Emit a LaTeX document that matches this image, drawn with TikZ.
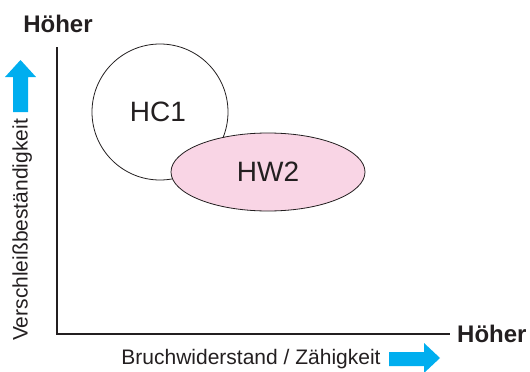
\documentclass[tikz,border=0pt]{standalone}
\usepackage{fontspec}
\setmainfont{Liberation Sans}
\usetikzlibrary{shapes.geometric}
\definecolor{txt}{HTML}{231F20}
\definecolor{arrowblue}{HTML}{00AEEF}
\definecolor{pinkfill}{HTML}{F9D5E5}
\begin{document}
\begin{tikzpicture}[x=1pt,y=-1pt,
  lbl/.style={inner sep=0pt, text=txt, font=\fontsize{21}{25}\selectfont},
  hi/.style={inner sep=0pt, text=txt, font=\fontsize{24}{28}\selectfont\bfseries},
  blob/.style={draw=txt, line width=0.8pt, inner sep=0pt, text=txt, font=\fontsize{28}{32}\selectfont},
  axis/.style={draw=txt, line width=1.1pt},
  barrow/.style={fill=arrowblue, draw=none}]
\useasboundingbox (0,0) rectangle (530,372);
% axes
\coordinate (ytop) at (57,47);
\coordinate (orig) at (57,334);
\coordinate (xend) at (450,334);
\draw[axis] (ytop) -- (orig) -- (xend);
% blobs
\node[blob, circle, minimum width=136pt, minimum height=136pt, fill=white] (hc1) at (160,112) {};
\node[text=txt, font=\fontsize{28}{32}\selectfont, inner sep=0pt] (hc1t) at (158,112) {HC1};
\node[blob, ellipse, minimum width=194pt, minimum height=78pt, fill=pinkfill] (hw2) at (268,172) {HW2};
% labels
\node[hi] (topH) at (58,24) {Höher};
\node[hi, anchor=west] (rightH) at (457,334) {Höher};
\node[lbl, rotate=90, anchor=base] (ylab) at (27.5,230) {Verschleißbeständigkeit};
\node[lbl, anchor=base] (xlab) at (251,364) {Bruchwiderstand / Zähigkeit};
% blue arrows
\fill[barrow] (13,112) -- (28,112) -- (28,77) -- (36,77) -- (20.5,60) -- (5,77) -- (13,77) -- cycle;
\fill[barrow] (389,352) -- (424,352) -- (424,343) -- (440,358) -- (424,373) -- (424,366) -- (389,366) -- cycle;
\end{tikzpicture}
\end{document}
